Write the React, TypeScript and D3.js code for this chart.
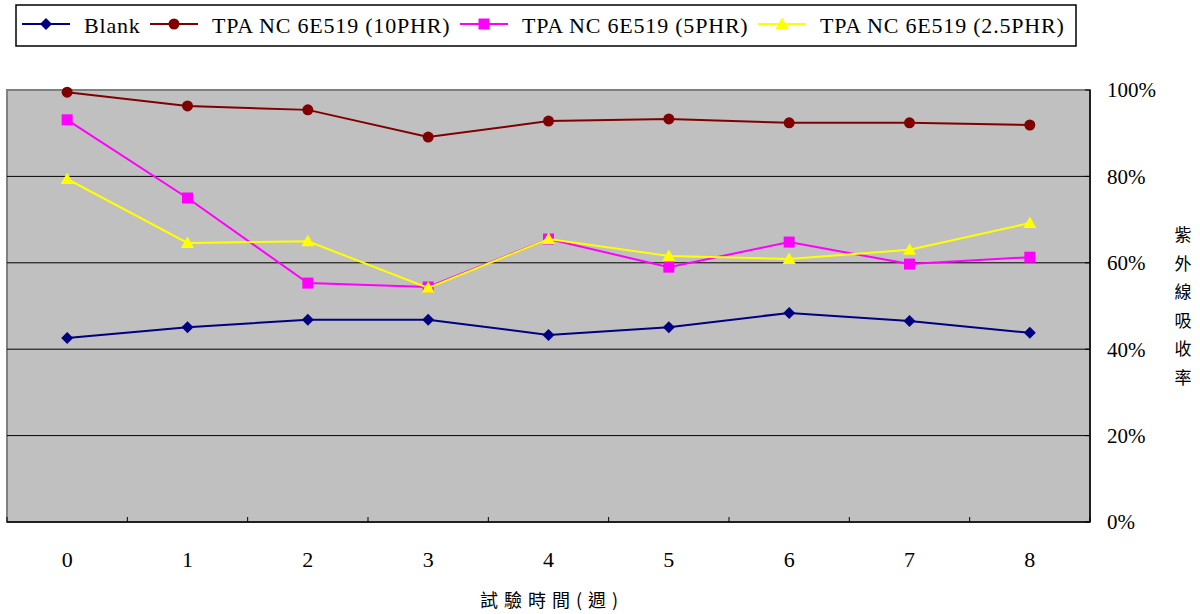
import React from 'react';
import * as d3 from 'd3';

const weeks = ['0', '1', '2', '3', '4', '5', '6', '7', '8'];
const blank = [42.6, 45.1, 46.8, 46.8, 43.3, 45.1, 48.4, 46.5, 43.8];
const phr10 = [99.5, 96.3, 95.4, 89.1, 92.8, 93.3, 92.4, 92.4, 91.9];
const phr5 = [93.1, 75.0, 55.3, 54.4, 65.5, 59.0, 64.8, 59.7, 61.3];
const phr25 = [79.4, 64.6, 65.0, 54.2, 65.5, 61.6, 60.9, 63.0, 69.2];
const yTicks = [0, 20, 40, 60, 80, 100];

const series = [
  { name: 'Blank', values: blank, color: '#000080', shape: 'diamond' },
  { name: 'TPA NC 6E519 (10PHR)', values: phr10, color: '#800000', shape: 'circle' },
  { name: 'TPA NC 6E519 (5PHR)', values: phr5, color: '#ff00ff', shape: 'square' },
  { name: 'TPA NC 6E519 (2.5PHR)', values: phr25, color: '#ffff00', shape: 'triangle' },
];
const legendX = [22, 150, 460, 758];

const serif = 'Liberation Serif';
const cjk = 'Noto Sans CJK TC';

const Marker = ({ shape, x, y, color }: { shape: string; x: number; y: number; color: string }) => {
  if (shape === 'circle') return <circle cx={x} cy={y} r={5.5} fill={color} />;
  if (shape === 'square') return <rect x={x - 5.5} y={y - 5.5} width={11} height={11} fill={color} />;
  if (shape === 'diamond')
    return <path d={`M${x},${y - 6}L${x + 6},${y}L${x},${y + 6}L${x - 6},${y}Z`} fill={color} />;
  return <path d={`M${x},${y - 6.5}L${x + 6.5},${y + 5}L${x - 6.5},${y + 5}Z`} fill={color} />;
};

export default function App() {
  const width = 1200;
  const height = 614;
  const left = 7, right = 1090, top = 90, bottom = 522;

  const x = d3.scaleBand<string>().domain(weeks).range([left, right]);
  const y = d3.scaleLinear().domain([0, 100]).range([bottom, top]);
  const cx = (w: string) => (x(w) as number) + x.bandwidth() / 2;
  const line = d3
    .line<number>()
    .x((_, i) => cx(weeks[i]))
    .y((d) => y(d));

  const title = '紫外線吸收率'.split('');

  return (
    <svg width={width} height={height} style={{ position: 'absolute', left: 0, top: 0 }}>
      <rect x={0} y={0} width={width} height={height} fill="#fff" />
      {/* plot area */}
      <rect x={left} y={top} width={right - left} height={bottom - top} fill="#c0c0c0" stroke="#808080" strokeWidth={2} />
      {yTicks.slice(1, -1).map((t) => (
        <line key={t} x1={left} x2={right} y1={y(t)} y2={y(t)} stroke="#000" strokeWidth={1} />
      ))}
      {/* right axis */}
      <line x1={right} x2={right} y1={top} y2={bottom} stroke="#000" strokeWidth={1.5} />
      {yTicks.map((t) => (
        <g key={t}>
          <line x1={right - 5} x2={right} y1={y(t)} y2={y(t)} stroke="#000" />
          <text x={1107} y={y(t)} dy="0.35em" fontFamily={serif} fontSize={21} fill="#000">
            {t}%
          </text>
        </g>
      ))}
      {/* bottom axis */}
      <line x1={left} x2={right} y1={bottom} y2={bottom} stroke="#000" strokeWidth={1.5} />
      {weeks.map((w) => (
        <g key={w}>
          <line x1={x(w) as number} x2={x(w) as number} y1={bottom - 5} y2={bottom} stroke="#000" />
          <text x={cx(w)} y={567} textAnchor="middle" fontFamily={serif} fontSize={22} fill="#000">
            {w}
          </text>
        </g>
      ))}
      <line x1={right} x2={right} y1={bottom - 5} y2={bottom} stroke="#000" />
      <text x={552} y={607} textAnchor="middle" fontFamily={cjk} fontSize={18} letterSpacing={6} fill="#000">
        試驗時間(週)
      </text>
      {title.map((c, i) => (
        <text key={i} x={1183} y={241 + i * 28.5} textAnchor="middle" fontFamily={cjk} fontSize={17} fill="#000">
          {c}
        </text>
      ))}
      {/* series */}
      {series.map((s) => (
        <g key={s.name}>
          <path d={line(s.values) as string} fill="none" stroke={s.color} strokeWidth={2} />
          {s.values.map((v, i) => (
            <Marker key={i} shape={s.shape} x={cx(weeks[i])} y={y(v)} color={s.color} />
          ))}
        </g>
      ))}
      {/* legend */}
      <rect x={16} y={5} width={1060} height={41} fill="#fff" stroke="#000" strokeWidth={1.5} />
      {series.map((s, i) => (
        <g key={s.name}>
          <line x1={legendX[i]} x2={legendX[i] + 48} y1={24} y2={24} stroke={s.color} strokeWidth={2} />
          <Marker shape={s.shape} x={legendX[i] + 24} y={24} color={s.color} />
          <text x={legendX[i] + 62} y={25} dy="0.35em" fontFamily={serif} fontSize={22} letterSpacing={0.8} fill="#000">
            {s.name}
          </text>
        </g>
      ))}
    </svg>
  );
}
